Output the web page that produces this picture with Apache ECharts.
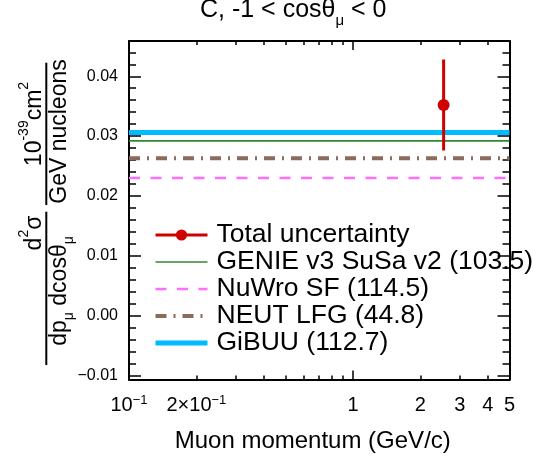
<!DOCTYPE html>
<html>
<head>
<meta charset="utf-8">
<script src="https://cdn.jsdelivr.net/npm/echarts@6/dist/echarts.min.js"></script>
<style>
html,body{margin:0;padding:0;background:#fff;}
#chart{width:533px;height:458px;}
</style>
</head>
<body>
<div id="chart"></div>
<script>
// ---- data ----
const binEdges = [0.1, 5];
const dataMomentum = [2.54];
const dataValues = [0.0352];
const dataErrors = [0.0076];
const genieValues = [0.0292];
const nuwroValues = [0.0230];
const neutValues = [0.0263];
const gibuuValues = [0.0306];
const seriesNames = ['Total uncertainty', 'GENIE v3 SuSa v2 (103.5)', 'NuWro SF (114.5)', 'NEUT LFG (44.8)', 'GiBUU (112.7)'];
const xLabelValues = [0.1, 0.2, 1, 2, 3, 4, 5];
const xLabelTexts = ['10^−1', '2×10^−1', '1', '2', '3', '4', '5'];
const xMajorTicks = [1];
const xMinorTicks = [0.2, 0.3, 0.4, 0.5, 0.6, 0.7, 0.8, 0.9, 2, 3, 4];
const yMajorTicks = [-0.01, 0, 0.01, 0.02, 0.03, 0.04];
const yMinorTicks = [-0.008, -0.006, -0.004, -0.002, 0.002, 0.004, 0.006, 0.008, 0.012, 0.014, 0.016, 0.018,
  0.022, 0.024, 0.026, 0.028, 0.032, 0.034, 0.036, 0.038, 0.042, 0.044];
const xRange = [0.1, 5];
const yRange = [-0.0107, 0.0459];

// ---- helpers ----
const FONT = 'Liberation Sans, Arial, Helvetica, sans-serif';
function stepData(edges, vals) {
  const out = [];
  vals.forEach((v, i) => { out.push([edges[i], v]); out.push([edges[i + 1], v]); });
  return out;
}
function errData() {
  const out = [];
  dataMomentum.forEach((x, i) => {
    out.push([x, dataValues[i] - dataErrors[i]]);
    out.push([x, dataValues[i]]);
    out.push([x, dataValues[i] + dataErrors[i]]);
  });
  return out;
}
function xLabelFmt(value) {
  const idx = xLabelValues.findIndex(v => Math.abs(v - value) / v < 1e-6);
  if (idx < 0) return '';
  const t = xLabelTexts[idx];
  const parts = t.split('^');
  return parts.length > 1 ? '{b|' + parts[0] + '}{s|' + parts[1] + '}' : '{b|' + t + '}';
}
function yLabelFmt(v) {
  return (v < -1e-12 ? '−' : '') + Math.abs(v).toFixed(2);
}
const frame = { show: true, onZero: false, lineStyle: { color: '#000', width: 2 } };
const noLine = { show: false, onZero: false };
function xAxisDef(pos, ticks, len, withLabel, lineShow) {
  return {
    type: 'log', logBase: 10, min: xRange[0], max: xRange[1], position: pos,
    axisLine: lineShow ? frame : noLine,
    axisTick: { show: true, inside: true, length: len, customValues: ticks, lineStyle: { color: '#000', width: 1.5 } },
    axisLabel: withLabel ? {
      show: true, customValues: xLabelValues, formatter: xLabelFmt, margin: 14,
      rich: {
        b: { fontFamily: FONT, fontSize: 20, color: '#000', lineHeight: 24 },
        s: { fontFamily: FONT, fontSize: 13, color: '#000', lineHeight: 13, verticalAlign: 'top' }
      }
    } : { show: false },
    splitLine: { show: false }, minorTick: { show: false }, minorSplitLine: { show: false }
  };
}
function yAxisDef(pos, ticks, len, withLabel, lineShow) {
  return {
    type: 'value', min: yRange[0], max: yRange[1], position: pos,
    axisLine: lineShow ? frame : noLine,
    axisTick: { show: true, inside: true, length: len, customValues: ticks, lineStyle: { color: '#000', width: 1.5 } },
    axisLabel: withLabel ? {
      show: true, customValues: yMajorTicks, formatter: yLabelFmt, margin: 11,
      fontFamily: FONT, fontSize: 16, color: '#000'
    } : { show: false },
    splitLine: { show: false }, minorTick: { show: false }
  };
}

const xAxes = [
  xAxisDef('bottom', xMajorTicks, 9, true, true),
  xAxisDef('bottom', xMinorTicks, 4, false, false),
  xAxisDef('top', xMajorTicks, 9, false, true),
  xAxisDef('top', xMinorTicks, 4, false, false)
];
xAxes[0].name = 'Muon momentum (GeV/c)';
xAxes[0].nameLocation = 'middle';
xAxes[0].nameGap = 50;
xAxes[0].nameTextStyle = { fontFamily: FONT, fontSize: 24, color: '#000', padding: [0, 13, 0, 0] };

const yAxes = [
  yAxisDef('left', yMajorTicks, 12, true, true),
  yAxisDef('left', yMinorTicks, 7, false, false),
  yAxisDef('right', yMajorTicks, 12, false, true),
  yAxisDef('right', yMinorTicks, 7, false, false)
];

function modelSeries(name, vals, color, width, dash) {
  return {
    type: 'line', name: name, data: stepData(binEdges, vals), symbol: 'none',
    lineStyle: { color: color, width: width, type: dash },
    itemStyle: { color: color, opacity: 0 },
    silent: true, animation: false, z: 2
  };
}

const tr = { fill: '#000', color: '#000', fontFamily: FONT };
const richMain = (fs, lh) => Object.assign({ fontSize: fs, lineHeight: lh }, tr);
const richSub = (fs) => Object.assign({ fontSize: fs, lineHeight: fs, verticalAlign: 'bottom' }, tr);
const richSup = (fs) => Object.assign({ fontSize: fs, lineHeight: fs, verticalAlign: 'top' }, tr);

function rotText(x, y, text, fs) {
  return {
    type: 'text', x: x, y: y, rotation: Math.PI / 2, silent: true,
    style: {
      text: text, align: 'center', verticalAlign: 'middle', textAlign: 'center', textVerticalAlign: 'middle',
      fill: '#000', fontFamily: FONT, fontSize: fs,
      rich: { m: richMain(fs, 34), sub: richSub(14), sup: richSup(14) }
    }
  };
}

const option = {
  animation: false,
  backgroundColor: '#fff',
  grid: { left: 129, right: 23.5, top: 41, bottom: 78.5, containLabel: false, outerBoundsMode: 'none' },
  xAxis: xAxes,
  yAxis: yAxes,
  legend: {
    orient: 'vertical', left: 153, top: 221.5, padding: 0, itemGap: 0,
    itemWidth: 52, itemHeight: 14, selectedMode: false,
    data: seriesNames,
    textStyle: { fontFamily: FONT, fontSize: 26.5, color: '#000', lineHeight: 27, padding: [0, 0, 0, 4] },
    lineStyle: { width: 'inherit' }
  },
  series: [
    modelSeries(seriesNames[1], genieValues, '#2f8a2f', 1.6, 'solid'),
    modelSeries(seriesNames[2], nuwroValues, '#ff6eff', 2.6, [11, 10.5]),
    modelSeries(seriesNames[3], neutValues, '#8b6b5b', 4, [11, 7, 2, 7]),
    modelSeries(seriesNames[4], gibuuValues, '#00bbff', 5, 'solid'),
    {
      type: 'line', name: seriesNames[0], data: errData(),
      symbol: 'circle', showSymbol: true, showAllSymbol: true,
      symbolSize: (val, params) => (params.dataIndex % 3 === 1 ? 12 : 0),
      lineStyle: { color: '#d00000', width: 3 },
      itemStyle: { color: '#d00000' },
      silent: true, animation: false, z: 5
    }
  ],
  graphic: [
    {
      type: 'text', x: 200, y: 10, silent: true,
      style: {
        text: '{m|C, -1 < cosθ}{sub|μ}{m| < 0}', align: 'left', verticalAlign: 'middle',
        textAlign: 'left', textVerticalAlign: 'middle', fill: '#000', fontFamily: FONT, fontSize: 25,
        rich: { m: richMain(25, 36), sub: richSub(15) }
      }
    },
    { type: 'rect', silent: true, shape: { x: 45.3, y: 62.7, width: 2, height: 142.3 }, style: { fill: '#000' } },
    { type: 'rect', silent: true, shape: { x: 45.3, y: 211.7, width: 2, height: 153.3 }, style: { fill: '#000' } },
    rotText(34.5, 124, '{m|10}{sup|-39}{m|cm}{sup|2}', 23),
    rotText(59.5, 131.5, '{m|GeV nucleons}', 23),
    rotText(34.5, 233, '{m|d}{sup|2}{m|σ}', 23),
    rotText(59.5, 291, '{m|dp}{sub|μ}{m| dcosθ}{sub|μ}', 23)
  ]
};

const chart = echarts.init(document.getElementById('chart'), null, { renderer: 'canvas' });
chart.setOption(option);
</script>
</body>
</html>
